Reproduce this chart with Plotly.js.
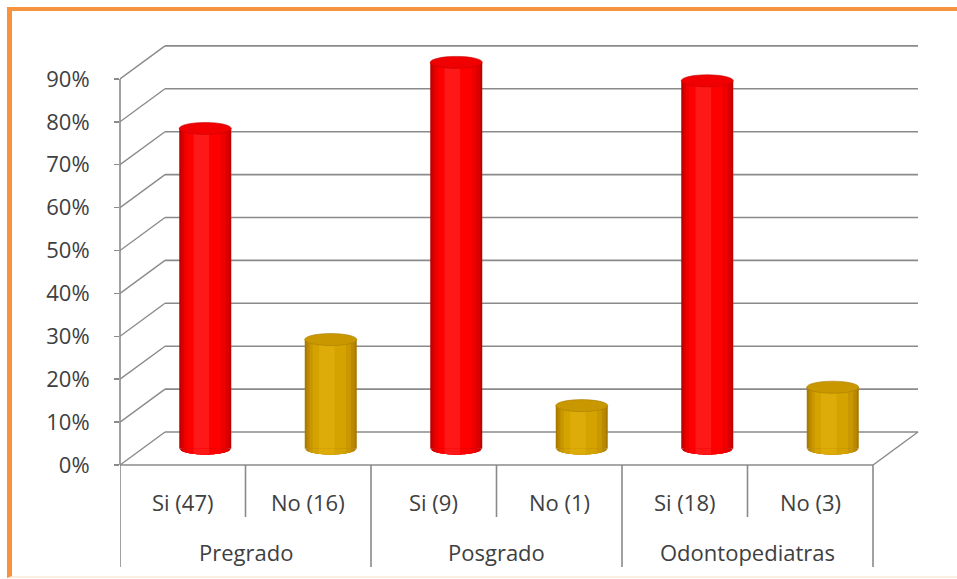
<!DOCTYPE html>
<html>
<head>
<meta charset="utf-8">
<script src="https://cdn.plot.ly/plotly-3.0.1.min.js"></script>
<style>
  html, body { margin: 0; padding: 0; background: #ffffff; }
  #wrap { position: relative; width: 957px; height: 579px; overflow: hidden; }
  #chart { width: 957px; height: 579px; }
  /* orange outline around the chart area */
  #frame {
    position: absolute; left: 7px; top: 7px; right: -10px; bottom: 1px;
    border-top: 4px solid #F7923F; border-left: 5px solid #F7923F;
    border-bottom: 2px solid #FDEEE2;
    pointer-events: none;
  }
</style>
</head>
<body>
<div id="wrap"><div id="chart"></div><div id="frame"></div></div>
<script>
// Respondents per group, split by answer
const groups = ['Pregrado', 'Posgrado', 'Odontopediatras'];
const answers = ['Si', 'No'];
const counts = [[47, 16], [9, 1], [18, 3]];
const yTicks = [0, 0.1, 0.2, 0.3, 0.4, 0.5, 0.6, 0.7, 0.8, 0.9];

// Flatten into one slot per (group, answer)
const slots = [];
groups.forEach((g, gi) => {
  const total = counts[gi].reduce((a, b) => a + b, 0);
  answers.forEach((a, ai) => {
    slots.push({ group: g, answer: a, n: counts[gi][ai], share: counts[gi][ai] / total, idx: gi * answers.length + ai });
  });
});

// Page and pseudo-3D geometry
const W = 957, H = 579;
const M = { l: 120, r: 38, t: 36, b: 114 };
const plotW = W - M.l - M.r;
const plotH = H - M.t - M.b;
const SLOT_PX = 125.5;           // width of one category on the floor
const DEPTH_X_PX = 45, DEPTH_Y_PX = 33;
const Y_MAX = 1.0;
const dx = DEPTH_X_PX / SLOT_PX;
const dy = DEPTH_Y_PX / plotH * Y_MAX;
const xRange = [-0.5, -0.5 + plotW / SLOT_PX];
const barW = 52 / SLOT_PX;
const R = barW / 2;
const capB = 6 / plotH * Y_MAX;
const base = dy / 2;
const nSlots = slots.length;
const xLast = nSlots - 0.5;

const lineGray = '#8a8a8a';
const textGray = '#404040';
const FONT = 'Open Sans, Liberation Sans, sans-serif';

// Cylinder shading bands, outer to inner
const bands = [
  { frac: 1.00, off: 0.00, c: { Si: '#C00000', No: '#A87A00' } },
  { frac: 0.92, off: 0.00, c: { Si: '#DA0000', No: '#BA8900' } },
  { frac: 0.80, off: -0.02, c: { Si: '#EE0000', No: '#C99700' } },
  { frac: 0.64, off: -0.05, c: { Si: '#FF0000', No: '#D5A300' } },
  { frac: 0.30, off: -0.15, c: { Si: '#FF1818', No: '#DDAC08' } }
];
const capFill = { Si: '#F00000', No: '#C99800' };
const capLine = { Si: '#C80000', No: '#A87C00' };

const centers = slots.map(s => s.idx + dx / 2);
const shares = slots.map(s => s.share);

const traces = bands.map(b => ({
  type: 'bar',
  x: centers.map(c => c + b.off * R),
  y: shares,
  base: base,
  width: barW * b.frac,
  marker: { color: slots.map(s => b.c[s.answer]), line: { width: 0 } },
  hoverinfo: 'skip',
  showlegend: false
}));

const shapes = [];
// back wall gridlines and side wall diagonals
yTicks.forEach(v => {
  shapes.push({ type: 'line', layer: 'below', xref: 'x', yref: 'y',
    x0: -0.5 + dx, x1: xLast + dx, y0: v + dy, y1: v + dy,
    line: { color: lineGray, width: 1.6 } });
  shapes.push({ type: 'line', layer: 'below', xref: 'x', yref: 'y',
    x0: -0.5, x1: -0.5 + dx, y0: v, y1: v + dy,
    line: { color: lineGray, width: 1.4 } });
});
// floor front edge and right edge
shapes.push({ type: 'line', layer: 'below', xref: 'x', yref: 'paper',
  x0: -0.5, x1: xLast, y0: 0, y1: 0, line: { color: lineGray, width: 1.6 } });
shapes.push({ type: 'line', layer: 'below', xref: 'x', yref: 'y',
  x0: xLast, x1: xLast + dx, y0: 0, y1: dy, line: { color: lineGray, width: 1.4 } });
// front value axis line
shapes.push({ type: 'line', layer: 'below', xref: 'paper', yref: 'y',
  x0: 0, x1: 0, y0: 0, y1: yTicks[yTicks.length - 1], line: { color: lineGray, width: 1.6 } });

// bottom caps of each shading band (ellipse arc under the bar)
slots.forEach((s, i) => {
  const xc = centers[i];
  bands.forEach(b => {
    const w = R * b.frac, xb = xc + b.off * R;
    const pts = [];
    const N = 24;
    for (let k = 0; k <= N; k++) {
      const x = xb - w + 2 * w * k / N;
      const t = Math.max(0, 1 - Math.pow((x - xc) / R, 2));
      pts.push([x, base - capB * Math.sqrt(t)]);
    }
    let p = 'M' + (xb - w) + ',' + base;
    pts.forEach(q => { p += ' L' + q[0] + ',' + q[1]; });
    p += ' L' + (xb + w) + ',' + base + ' Z';
    shapes.push({ type: 'path', layer: 'above', xref: 'x', yref: 'y', path: p,
      fillcolor: b.c[s.answer], line: { width: 0 } });
  });
  // top cap
  const top = base + s.share;
  shapes.push({ type: 'circle', layer: 'above', xref: 'x', yref: 'y',
    x0: xc - R, x1: xc + R, y0: top - capB, y1: top + capB,
    fillcolor: capFill[s.answer], line: { color: capLine[s.answer], width: 0.6 } });
});

// category table lines under the floor
const px2paper = px => -px / plotH;
for (let k = 0; k <= nSlots; k++) {
  const isGroupEdge = k % answers.length === 0;
  shapes.push({ type: 'line', layer: 'below', xref: 'x', yref: 'paper',
    x0: -0.5 + k, x1: -0.5 + k, y0: 0, y1: px2paper(isGroupEdge ? 102 : 52),
    line: { color: lineGray, width: 1.6 } });
}

const annotations = [];
slots.forEach(s => {
  annotations.push({ xref: 'x', yref: 'paper', x: s.idx, y: 0, yshift: -37,
    yanchor: 'middle', xanchor: 'center', showarrow: false,
    text: s.answer + ' (' + s.n + ')', font: { family: FONT, size: 22, color: textGray } });
});
groups.forEach((g, gi) => {
  annotations.push({ xref: 'x', yref: 'paper', x: gi * answers.length + (answers.length - 1) / 2, y: 0, yshift: -87,
    yanchor: 'middle', xanchor: 'center', showarrow: false,
    text: g, font: { family: FONT, size: 22, color: textGray } });
});

const layout = {
  width: W, height: H,
  margin: M,
  paper_bgcolor: 'rgba(0,0,0,0)',
  plot_bgcolor: 'rgba(0,0,0,0)',
  barmode: 'overlay',
  showlegend: false,
  xaxis: { range: xRange, showgrid: false, zeroline: false, showline: false,
    showticklabels: false, ticks: '', fixedrange: true },
  yaxis: { range: [0, Y_MAX], showgrid: false, zeroline: false, showline: false,
    tickvals: yTicks, tickformat: '.0%', ticks: 'outside', ticklen: 5,
    tickcolor: lineGray, tickwidth: 1.5, ticklabelstandoff: 20,
    tickfont: { family: FONT, size: 22, color: textGray }, fixedrange: true },
  shapes: shapes,
  annotations: annotations
};

Plotly.newPlot('chart', traces, layout, { displayModeBar: false, staticPlot: true });
</script>
</body>
</html>
